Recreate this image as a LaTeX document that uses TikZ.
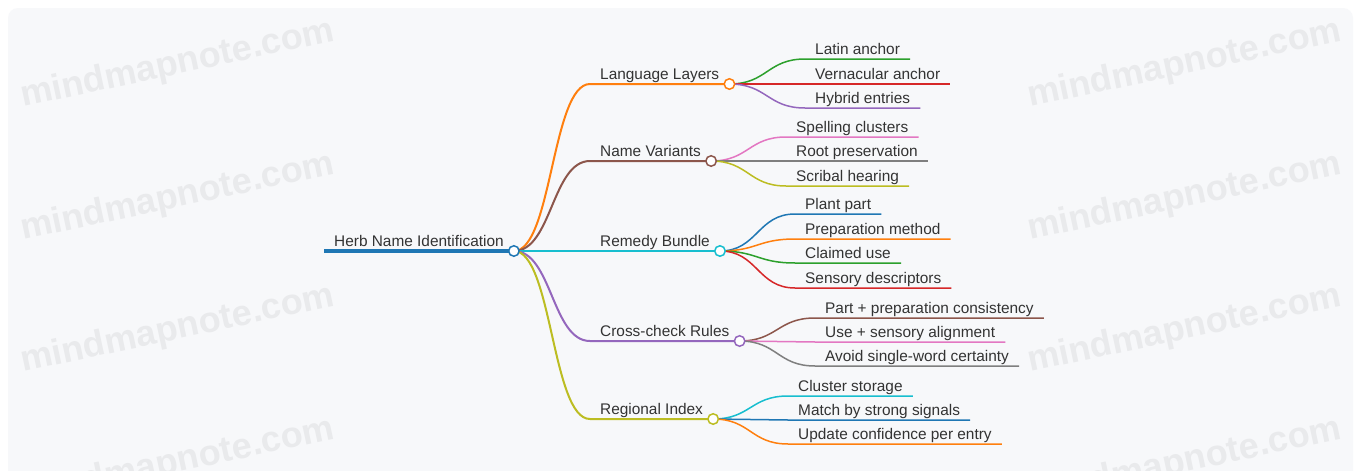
\documentclass[tikz,border=0pt]{standalone}
\usepackage{fontspec}
\setmainfont{Liberation Sans}
\usetikzlibrary{calc}
\pgfdeclarelayer{bg}
\pgfsetlayers{bg,main}
\definecolor{cBlue}{HTML}{1F77B4}
\definecolor{cOrange}{HTML}{FF7F0E}
\definecolor{cGreen}{HTML}{2CA02C}
\definecolor{cRed}{HTML}{D62728}
\definecolor{cPurple}{HTML}{9467BD}
\definecolor{cBrown}{HTML}{8C564B}
\definecolor{cPink}{HTML}{E377C2}
\definecolor{cGray}{HTML}{7F7F7F}
\definecolor{cOlive}{HTML}{BCBD22}
\definecolor{cCyan}{HTML}{17BECF}
\definecolor{ink}{HTML}{333333}
\definecolor{paper}{HTML}{F7F8FA}
\definecolor{wmark}{HTML}{E9EAEC}
\tikzset{
  lbl/.style={font=\fontsize{15.4pt}{18pt}\selectfont, text=ink,
    inner xsep=10pt, inner ysep=0pt, text height=11pt, text depth=4pt,
    anchor=south west},
  knob/.style={circle, draw=#1, fill=white, line width=1.5pt,
    minimum size=10.5pt, inner sep=0pt},
  trunk/.style={line width=2pt, draw=#1},
  twig/.style={line width=1.5pt, draw=#1},
  wm/.style={font=\fontsize{36pt}{40pt}\selectfont\bfseries, text=wmark,
    rotate=12, anchor=base west, inner sep=0pt}
}
% curved link from a knob to the underline of a label, then along it
\newcommand\mmlink[3]{%
  \draw[#1] let \p1=(#2), \p2=(#3.south west) in
    (\p1) .. controls ({(\x1+\x2)/2},\y1) and ({(\x1+\x2)/2},\y2) .. (\p2)
    -- (#3.south east);}
\begin{document}
\begin{tikzpicture}[x=1pt,y=-1pt]
\useasboundingbox (0,0) rectangle (1361,471);

% labels
\node[lbl] (root) at (324,251) {Herb Name Identification};

\node[lbl] (lang) at (590,84)  {Language Layers};
\node[lbl] (name) at (590,161) {Name Variants};
\node[lbl] (rem)  at (590,251) {Remedy Bundle};
\node[lbl] (cross) at (590,341) {Cross-check Rules};
\node[lbl] (reg)  at (590,419) {Regional Index};

\node[lbl] (la1) at (805,59)  {Latin anchor};
\node[lbl] (la2) at (805,84)  {Vernacular anchor};
\node[lbl] (la3) at (805,108) {Hybrid entries};

\node[lbl] (nv1) at (786,137) {Spelling clusters};
\node[lbl] (nv2) at (786,161) {Root preservation};
\node[lbl] (nv3) at (786,186) {Scribal hearing};

\node[lbl] (rb1) at (795,214) {Plant part};
\node[lbl] (rb2) at (795,239) {Preparation method};
\node[lbl] (rb3) at (795,263) {Claimed use};
\node[lbl] (rb4) at (795,288) {Sensory descriptors};

\node[lbl] (cr1) at (815,318) {Part + preparation consistency};
\node[lbl] (cr2) at (815,342) {Use + sensory alignment};
\node[lbl] (cr3) at (815,366) {Avoid single-word certainty};

\node[lbl] (ri1) at (788,396) {Cluster storage};
\node[lbl] (ri2) at (788,420) {Match by strong signals};
\node[lbl] (ri3) at (788,444) {Update confidence per entry};

% knobs
\node[knob=cBlue]   (kroot)  at (root.south east) {};
\node[knob=cOrange] (klang)  at (lang.south east) {};
\node[knob=cBrown]  (kname)  at (name.south east) {};
\node[knob=cCyan]   (krem)   at (rem.south east) {};
\node[knob=cPurple] (kcross) at (cross.south east) {};
\node[knob=cOlive]  (kreg)   at (reg.south east) {};

\begin{pgfonlayer}{bg}
  \fill[white] (0,0) rectangle (1361,471);
  \fill[paper, rounded corners=10pt] (8,8) rectangle (1353,490);
  \begin{scope}
    \clip[rounded corners=10pt] (8,8) rectangle (1353,490);
    \node[wm] (wm1) at (23,107) {mindmapnote.com};
    \node[wm] (wm2) at (23,240) {mindmapnote.com};
    \node[wm] (wm3) at (23,372) {mindmapnote.com};
    \node[wm] (wm4) at (23,505) {mindmapnote.com};
    \node[wm] (wm5) at (1030,107) {mindmapnote.com};
    \node[wm] (wm6) at (1030,240) {mindmapnote.com};
    \node[wm] (wm7) at (1030,372) {mindmapnote.com};
    \node[wm] (wm8) at (1030,505) {mindmapnote.com};
  \end{scope}

  \draw[line width=4pt, cBlue] (root.south west) -- (kroot.center);

  \mmlink{trunk=cOrange}{kroot.center}{lang}
  \mmlink{trunk=cBrown}{kroot.center}{name}
  \mmlink{trunk=cCyan}{kroot.center}{rem}
  \mmlink{trunk=cPurple}{kroot.center}{cross}
  \mmlink{trunk=cOlive}{kroot.center}{reg}

  \mmlink{twig=cGreen}{klang.center}{la1}
  \mmlink{twig=cRed}{klang.center}{la2}
  \mmlink{twig=cPurple}{klang.center}{la3}

  \mmlink{twig=cPink}{kname.center}{nv1}
  \mmlink{twig=cGray}{kname.center}{nv2}
  \mmlink{twig=cOlive}{kname.center}{nv3}

  \mmlink{twig=cBlue}{krem.center}{rb1}
  \mmlink{twig=cOrange}{krem.center}{rb2}
  \mmlink{twig=cGreen}{krem.center}{rb3}
  \mmlink{twig=cRed}{krem.center}{rb4}

  \mmlink{twig=cBrown}{kcross.center}{cr1}
  \mmlink{twig=cPink}{kcross.center}{cr2}
  \mmlink{twig=cGray}{kcross.center}{cr3}

  \mmlink{twig=cCyan}{kreg.center}{ri1}
  \mmlink{twig=cBlue}{kreg.center}{ri2}
  \mmlink{twig=cOrange}{kreg.center}{ri3}
\end{pgfonlayer}
\end{tikzpicture}
\end{document}
